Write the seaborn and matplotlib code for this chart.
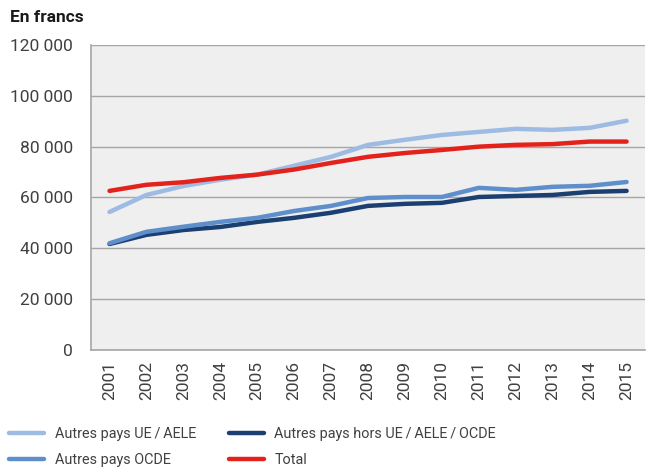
import pandas as pd
import numpy as np
import matplotlib.pyplot as plt
import seaborn as sns
from matplotlib.ticker import FuncFormatter, FixedLocator

# Data
years = list(range(2001, 2016))
ue_aele = [54300, 61000, 64500, 67000, 69000, 72500, 76000, 80700, 82700,
           84600, 85800, 87000, 86600, 87400, 90200]
hors_ue = [41700, 45300, 47200, 48400, 50400, 52000, 54000, 56700, 57500,
           57900, 60200, 60600, 61000, 62200, 62600]
ocde = [42000, 46500, 48500, 50400, 52000, 54700, 56700, 59800, 60200,
        60200, 63800, 63000, 64200, 64600, 66100]
total = [62600, 65000, 66000, 67700, 69000, 71000, 73600, 76000, 77500,
         78700, 80000, 80700, 81000, 82000, 82000]

series_names = ["Autres pays UE\u2009/\u2009AELE", "Autres pays hors UE\u2009/\u2009AELE\u2009/\u2009OCDE",
                "Autres pays OCDE", "Total"]
colors = ["#9dbbe3", "#1c3f72", "#5f8fcb", "#e3231b"]

df = pd.DataFrame({
    "Année": years * 4,
    "Valeur": ue_aele + hors_ue + ocde + total,
    "Série": np.repeat(series_names, len(years)),
})

sns.set_style("white")
plt.rcParams["font.family"] = ["Roboto", "DejaVu Sans"]

fig = plt.figure(figsize=(6.47, 4.70), dpi=100)
ax = fig.add_axes([0.1407, 0.2553, 0.8563, 0.649])
ax.set_facecolor("#efefef")

sns.lineplot(data=df, x="Année", y="Valeur", hue="Série", hue_order=series_names,
             palette=colors, linewidth=3.2, ax=ax, legend=False)

ax.set_ylim(0, 120000)
ax.set_xlim(2000.5, 2015.5)
ax.set_yticks(np.arange(0, 120001, 20000))
ax.yaxis.set_major_formatter(FuncFormatter(lambda v, p: f"{v:,.0f}".replace(",", " ")))
ax.set_xticks(years)
ax.set_xticklabels([str(y) for y in years], rotation=90)
ax.xaxis.set_minor_locator(FixedLocator(np.arange(2000.5, 2016, 1)))
ax.tick_params(axis="x", which="major", length=0, pad=8, labelsize=12.5, labelcolor="#404040")
ax.tick_params(axis="x", which="minor", length=5, color="#a6a6a6", direction="out")
ax.tick_params(axis="y", length=4, color="#a6a6a6", labelsize=12.5, labelcolor="#404040", pad=9)
ax.grid(axis="y", color="#a6a6a6", linewidth=1)
ax.set_axisbelow(True)
ax.set_xlabel("")
ax.set_ylabel("")
for s in ["top", "right"]:
    ax.spines[s].set_visible(False)
for s in ["left", "bottom"]:
    ax.spines[s].set_color("#a6a6a6")
    ax.spines[s].set_linewidth(1.2)

fig.text(0.016, 0.962, "En francs", fontsize=12.5, fontweight="bold", color="#1a1a1a", va="center")

# legend fills column-wise: reorder so rows read UE/AELE, hors ... / OCDE, Total
order = [0, 2, 1, 3]
handles = [plt.Line2D([0], [0], color=colors[i], linewidth=3.2) for i in order]
labels = [series_names[i] for i in order]
leg = fig.legend(handles, labels, loc="upper left", bbox_to_anchor=(0.005, 0.104),
                 ncol=2, frameon=False, handlelength=2.4, handletextpad=0.75,
                 columnspacing=2.3, labelspacing=0.85, borderaxespad=0,
                 prop={"size": 10.4})
for t in leg.get_texts():
    t.set_color("#404040")

fig.savefig("out.png", dpi=100)
